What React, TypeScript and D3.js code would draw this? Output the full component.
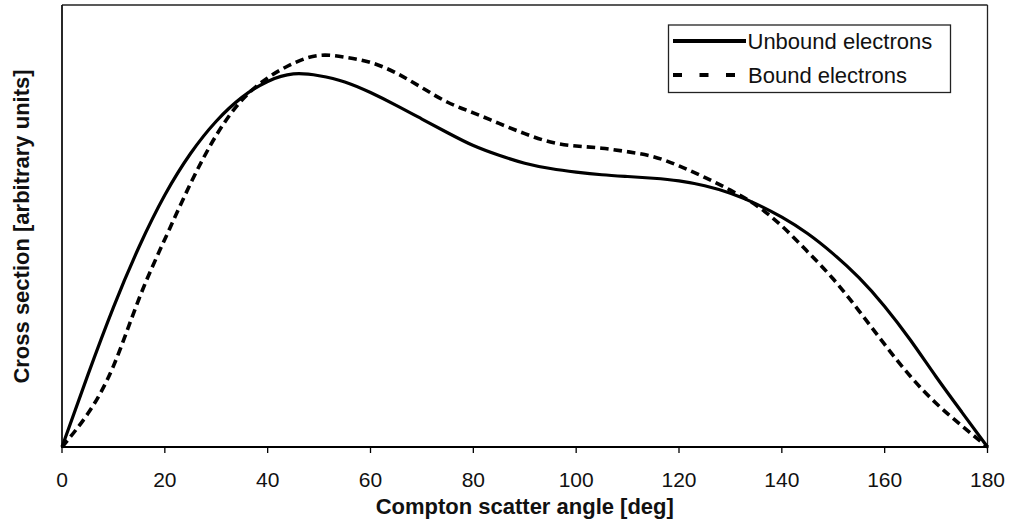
import React from "react";
import * as d3 from "d3";

const angles = [0, 5, 10, 15, 20, 25, 30, 35, 40, 45, 50, 55, 60, 65, 70, 75, 80, 85, 90, 95, 100, 105, 110, 115, 120, 125, 130, 135, 140, 145, 150, 155, 160, 165, 170, 175, 180];
const unboundValue = [0, 16.2, 31.6, 45.3, 57.0, 66.4, 73.7, 79.1, 82.7, 84.4, 84.0, 82.6, 80.2, 77.3, 74.2, 71.1, 68.2, 66.0, 64.2, 63.0, 62.2, 61.6, 61.2, 60.8, 60.2, 59.1, 57.4, 55.0, 52.0, 48.3, 43.7, 38.3, 31.8, 24.2, 15.9, 7.9, 0];
const boundValue = [0, 7.5, 18.3, 33.6, 47, 59.6, 70.5, 78.5, 83.5, 86.8, 88.6, 88.2, 87.0, 84.6, 81.3, 78.0, 75.6, 73.2, 70.9, 69.0, 68.1, 67.6, 66.8, 65.7, 63.6, 61.0, 58.1, 54.7, 50.0, 44.2, 38.0, 30.8, 23.2, 16.0, 9.9, 4.8, 0];

const xTicks = [0, 20, 40, 60, 80, 100, 120, 140, 160, 180];
const seriesNames = ["Unbound electrons", "Bound electrons"];
const xTitle = "Compton scatter angle [deg]";
const yTitle = "Cross section [arbitrary units]";

export default function App() {
  const W = 1009, H = 521;
  const left = 62, right = 987.5, top = 5, bottom = 447;
  const x = d3.scaleLinear().domain([0, 180]).range([left, right]);
  const y = d3.scaleLinear().domain([0, 100]).range([bottom, top]);
  const line = d3
    .line<[number, number]>()
    .x((d) => x(d[0]))
    .y((d) => y(d[1]))
    .curve(d3.curveNatural);
  const unbound: [number, number][] = angles.map((a, i) => [a, unboundValue[i]]);
  const bound: [number, number][] = angles.map((a, i) => [a, boundValue[i]]);
  const font = "'Liberation Sans', Arial, sans-serif";

  return (
    <svg
      width={W}
      height={H}
      style={{ position: "absolute", left: 0, top: 0, display: "block", background: "#fff" }}
      fontFamily={font}
    >
      <rect x={0} y={0} width={W} height={H} fill="#fff" />
      <line x1={left} y1={top} x2={right} y2={top} stroke="#222" strokeWidth={1.3} />
      <line x1={right} y1={top} x2={right} y2={bottom} stroke="#222" strokeWidth={1.3} />
      <line x1={left} y1={top} x2={left} y2={bottom} stroke="#111" strokeWidth={1.8} />
      <path d={line(bound) || ""} fill="none" stroke="#000" strokeWidth={3.6} strokeDasharray="8.5,5" />
      <path d={line(unbound) || ""} fill="none" stroke="#000" strokeWidth={3.2} />
      <line x1={left - 1} y1={bottom} x2={right + 1} y2={bottom} stroke="#000" strokeWidth={2.2} />
      {xTicks.map((t) => (
        <g key={t}>
          <line x1={x(t)} y1={bottom} x2={x(t)} y2={bottom + 6} stroke="#000" strokeWidth={1.3} />
          <text x={x(t)} y={486.5} textAnchor="middle" fontSize={21} fill="#111">
            {t}
          </text>
        </g>
      ))}
      <text x={(left + right) / 2} y={514} textAnchor="middle" fontSize={22} fontWeight="bold" fill="#111">
        {xTitle}
      </text>
      <text
        transform={`translate(29,226.5) rotate(-90)`}
        textAnchor="middle"
        fontSize={22}
        fontWeight="bold"
        fill="#111"
      >
        {yTitle}
      </text>
      <rect x={668.5} y={25} width={282} height={67.5} fill="#fff" stroke="#222" strokeWidth={1.3} />
      <line x1={673} y1={41} x2={746} y2={41} stroke="#000" strokeWidth={4} />
      <line x1={673} y1={75} x2={735} y2={75} stroke="#000" strokeWidth={4} strokeDasharray="9,17.5" />
      <text x={747.5} y={49} fontSize={22} fill="#111">
        {seriesNames[0]}
      </text>
      <text x={748} y={83} fontSize={22} fill="#111">
        {seriesNames[1]}
      </text>
    </svg>
  );
}
